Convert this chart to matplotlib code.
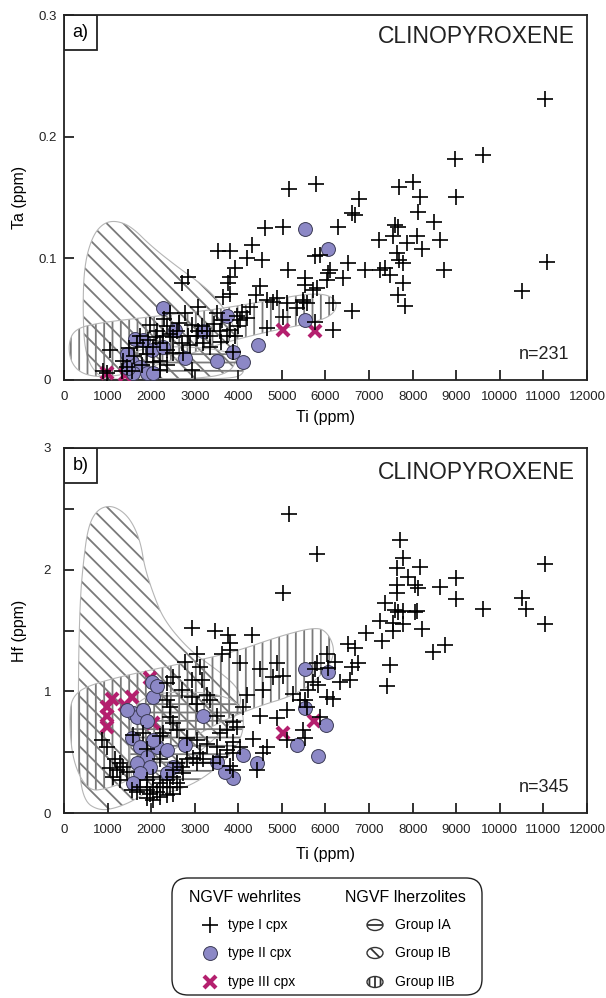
import numpy as np
import matplotlib
matplotlib.use('Agg')
import matplotlib.pyplot as plt
from matplotlib.patches import Polygon, Rectangle, FancyBboxPatch, Ellipse

plt.rcParams['font.family'] = ['Liberation Sans', 'DejaVu Sans']
plt.rcParams['hatch.linewidth'] = 1.3

# ---------------- panel a: Ta vs Ti ----------------
a_t1 = [(11040, .231), (8970, .182), (9615, .185), (5780, .161), (5160, .157), (7690, .159),
        (8010, .163), (6770, .149), (8170, .150), (8990, .150), (6610, .137), (6680, .136),
        (8120, .138), (8490, .130), (6290, .126), (7600, .127), (7665, .126), (7230, .115),
        (7550, .118), (7870, .113), (8100, .118), (8215, .108), (8630, .115), (7640, .104),
        (7690, .099), (7780, .096), (5760, .102), (5870, .103), (6520, .096), (6060, .088),
        (6100, .090), (6400, .084), (6910, .090), (7250, .090), (7370, .092), (7480, .086),
        (7780, .080), (7665, .070), (7825, .061), (8720, .090), (11080, .097), (10510, .073),
        (5530, .084), (5530, .078), (5484, .064), (5576, .063), (5800, .076), (6035, .082),
        (6170, .063), (6610, .057), (6170, .041), (5760, .048),
        (4612, .125), (5025, .126), (3534, .106), (3810, .106), (4314, .111), (4200, .100),
        (4543, .099), (3924, .092), (5140, .090), (2708, .080), (2845, .085), (3763, .080),
        (3810, .085), (4497, .077), (3650, .068), (3810, .071), (4658, .066), (4795, .064),
        (4887, .067), (5117, .063), (5346, .059), (5484, .066), (5713, .074), (3075, .060),
        (2776, .055), (4268, .060), (4084, .056), (3970, .053), (4038, .049), (4200, .051),
        (3510, .055), (3625, .049), (4658, .043), (5025, .052), (2432, .055), (1973, .045),
        (2134, .040), (2363, .044), (2432, .038), (2272, .036), (2500, .035), (2937, .045),
        (3167, .044), (3075, .040), (3281, .040), (3052, .036), (3350, .036), (3580, .040),
        (3810, .041), (3740, .036), (3924, .036), (3993, .044), (2708, .030), (2891, .029),
        (3190, .030), (3350, .027), (2731, .022), (1744, .036), (1675, .030), (1813, .027),
        (1927, .033), (2042, .027), (2203, .030), (2363, .025), (2500, .022), (2203, .016),
        (2042, .015), (1904, .021), (1354, .016), (1446, .011), (1560, .007), (1331, .007),
        (1056, .025), (895, .007), (987, .006), (2937, .008), (3878, .023), (2203, .008),
        (2363, .012), (1600, .020), (1800, .012), (2600, .040), (2300, .050), (4400, .070),
        (2100, .035), (2650, .047), (3450, .046), (1500, .026), (2850, .036), (3600, .031)]
a_t2 = [(5530, .124), (6060, .108), (2272, .059), (3740, .053), (5530, .049), (2547, .041),
        (3190, .040), (1629, .034), (1813, .033), (4452, .029), (3878, .023), (3510, .016),
        (4107, .015), (2776, .018), (1560, .015), (1446, .021), (1744, .011), (1904, .006),
        (2042, .006), (1583, .006), (1469, .010), (2019, .025), (2272, .027)]
a_t3 = [(5025, .041), (5760, .040), (987, .006), (1400, .004)]

a_IB = [(800, .002), (480, .02), (430, .06), (470, .095), (650, .118), (900, .129), (1200, .131),
        (1550, .126), (2000, .110), (2600, .093), (3300, .075), (3700, .058), (3950, .040),
        (4000, .020), (3800, .005), (3000, .001), (2000, .0005), (1200, .0005)]
a_IIB = [(100, .030), (250, .042), (800, .047), (2000, .052), (3500, .058), (4800, .066),
         (5600, .071), (6100, .070), (6280, .062), (6150, .053), (5700, .047), (4700, .040),
         (3600, .030), (2600, .018), (1600, .006), (900, .002), (400, .005), (150, .015)]
a_IA = [(1300, .003), (1400, .022), (2200, .028), (3500, .026), (4100, .018), (4150, .005),
        (3800, .0008), (2000, .0008)]

# ---------------- panel b: Hf vs Ti ----------------
b_t1 = [(5165, 2.46), (5800, 2.13), (5025, 1.81), (7710, 2.24), (7780, 2.10), (7640, 2.01),
        (8170, 2.02), (7890, 1.94), (8055, 1.87), (8120, 1.85), (7640, 1.87), (7640, 1.81),
        (8630, 1.86), (8995, 1.93), (7370, 1.73), (7600, 1.67), (7780, 1.66), (8100, 1.66),
        (8995, 1.76), (9615, 1.68), (10510, 1.77), (10600, 1.68), (11040, 2.05), (11040, 1.55),
        (7250, 1.58), (7550, 1.56), (7780, 1.55), (8215, 1.51), (7550, 1.50), (7665, 1.65),
        (8055, 1.65), (6930, 1.48), (7300, 1.41), (6520, 1.39), (6680, 1.36), (8470, 1.32),
        (8740, 1.38), (7480, 1.22), (7410, 1.04), (6750, 1.23), (6610, 1.20), (6220, 1.24),
        (6035, 1.31), (6060, 1.19), (5800, 1.23), (5760, 1.18), (6330, 1.08), (6560, 1.09),
        (5713, 1.08), (5600, 1.01), (5830, 1.05), (6035, 0.95), (6170, 0.94), (5530, 0.93),
        (5576, 0.87), (5870, 0.79), (5484, 0.68), (5530, 0.62),
        (2937, 1.52), (3465, 1.50), (3763, 1.46), (3810, 1.40), (4314, 1.46), (3625, 1.31),
        (3810, 1.34), (3052, 1.31), (4038, 1.23), (2776, 1.24), (3121, 1.20), (2500, 1.12),
        (2363, 1.07), (2937, 1.09), (3167, 1.09), (2708, 1.01), (3281, 0.97), (3350, 0.93),
        (2937, 0.95), (3052, 0.90), (4497, 1.18), (4887, 1.23), (4795, 1.12), (5025, 1.13),
        (4566, 1.01), (4200, 0.97), (4107, 0.87), (4497, 0.80), (4887, 0.78), (5117, 0.85),
        (5255, 0.98), (5415, 0.93), (5117, 0.60), (4337, 0.61), (4658, 0.54), (4566, 0.49),
        (3970, 0.71), (3878, 0.75), (3740, 0.68), (3580, 0.66), (3510, 0.80), (3878, 0.58),
        (3740, 0.52), (3878, 0.49), (3580, 0.46), (3419, 0.41), (3810, 0.39), (3878, 0.35),
        (4038, 0.54), (4430, 0.35), (3121, 0.49), (2960, 0.45), (2822, 0.44), (3190, 0.44),
        (3052, 0.41), (2822, 0.62), (2593, 0.68), (2432, 0.79), (2500, 0.74), (2272, 0.66),
        (1583, 0.64), (872, 0.60), (987, 0.54), (1170, 0.44), (1285, 0.41), (1354, 0.38),
        (1216, 0.35), (1056, 0.37), (1446, 0.34), (1124, 0.30), (1285, 0.27),
        (1744, 0.21), (1904, 0.19), (1973, 0.16), (2042, 0.21), (2134, 0.17), (2203, 0.25),
        (2272, 0.21), (2363, 0.27), (2432, 0.21), (2500, 0.30), (2593, 0.25), (2662, 0.21),
        (2731, 0.33), (2042, 0.11), (2203, 0.13), (2363, 0.15), (2500, 0.16), (1904, 0.12),
        (1675, 0.17), (1560, 0.19), (1904, 0.27), (2042, 0.30), (2500, 0.35), (2708, 0.38),
        (2593, 0.41), (2203, 0.44), (1904, 0.53), (1813, 0.66), (2203, 0.63), (2363, 0.93),
        (2432, 0.87), (3052, 0.60), (3281, 0.57), (3510, 0.54)]
b_t2 = [(5530, 1.18), (6060, 1.16), (5530, 0.86), (6010, 0.72), (5830, 0.47), (5346, 0.56),
        (4430, 0.41), (4107, 0.48), (3878, 0.29), (3694, 0.34), (3510, 0.42), (2776, 0.56),
        (3190, 0.80), (1583, 0.82), (1675, 0.79), (1813, 0.85), (1904, 0.76), (2042, 0.95),
        (2019, 1.08), (2134, 1.04), (1560, 0.62), (1744, 0.54), (1904, 0.46), (1675, 0.41),
        (1973, 0.38), (2134, 0.54), (2363, 0.52), (2500, 0.38), (2363, 0.33), (1744, 0.33),
        (1583, 0.25), (2042, 0.60), (1446, 0.85)]
b_t3 = [(987, 0.87), (1102, 0.94), (987, 0.71), (987, 0.80), (1400, 0.89), (1560, 0.95),
        (1973, 1.11), (2042, 0.74), (5025, 0.66), (5740, 0.76)]

b_IB = [(800, .02), (450, .10), (330, .40), (330, 1.20), (370, 1.75), (440, 2.05), (550, 2.35),
        (750, 2.49), (1050, 2.53), (1350, 2.48), (1580, 2.38), (1760, 2.22), (1850, 2.02),
        (2050, 1.80), (2300, 1.58), (2900, 1.33), (3500, 1.18), (4000, 1.03), (4080, 0.90),
        (3800, 0.72), (3100, 0.50), (2400, 0.30), (1700, 0.12), (1200, 0.04)]
b_IIB = [(120, 0.78), (200, 0.98), (800, 1.08), (2300, 1.20), (3800, 1.31), (5000, 1.46),
         (5800, 1.53), (6050, 1.48), (6200, 1.36), (6150, 1.25), (5950, 1.15), (5400, 0.98),
         (4300, 0.86), (3300, 0.70), (2200, 0.45), (1500, 0.27), (1000, 0.20), (550, 0.18),
         (200, 0.42)]
b_IA = [(1500, 0.50), (1550, 0.85), (1900, 0.97), (2700, 1.00), (3500, 0.98), (4050, 0.90),
        (4150, 0.70), (3900, 0.50), (3200, 0.28), (2500, 0.17), (1900, 0.15), (1550, 0.25)]

xticks = list(range(0, 12001, 1000))

PURPLE = '#8c88c6'
MAGENTA = '#b41f6e'
HATCH = '#7a7a7a'


def smooth(pts, ymax, n=3):
    # corner cutting in normalised units so both axes are treated alike
    p = np.array(pts, dtype=float) / [12000.0, ymax]
    for _ in range(n):
        q = np.roll(p, -1, axis=0)
        p = np.column_stack([0.75 * p + 0.25 * q, 0.25 * p + 0.75 * q]).reshape(-1, 2)
    return p * [12000.0, ymax]


def region(ax, pts, ymax, hatch):
    xy = smooth(pts, ymax)
    ax.add_patch(Polygon(xy, closed=True, fill=False, hatch=hatch, edgecolor=HATCH,
                         lw=0, zorder=1))
    ax.add_patch(Polygon(xy, closed=True, fill=False, edgecolor='#b5b5b5', lw=0.8, zorder=1))


def panel(ax, t1, t2, t3, IB, IIB, IA, ymax, yt, ylabs, yminor, ylabel, letter, n, ylet):
    region(ax, IB, ymax, '\\\\')
    region(ax, IIB, ymax, '||')
    region(ax, IA, ymax, '--')

    x3, y3 = zip(*t3)
    ax.plot(x3, y3, 'x', color=MAGENTA, ms=9, mew=3, zorder=3)
    x2, y2 = zip(*t2)
    ax.plot(x2, y2, 'o', mfc=PURPLE, mec='#3b3b55', mew=0.7, ms=10, zorder=4)
    x1, y1 = zip(*t1)
    ax.plot(x1, y1, '+', color='black', ms=11, mew=1.2, zorder=5)

    ax.set_xlim(0, 12000)
    ax.set_ylim(0, ymax)
    ax.set_xticks(xticks)
    ax.set_xticklabels([str(v) for v in xticks])
    ax.set_yticks(yt)
    ax.set_yticklabels(ylabs)
    if yminor:
        ax.set_yticks(yminor, minor=True)
    ax.tick_params(which='both', direction='in', length=7, width=1.3, labelsize=9.5,
                   colors='#222222')
    ax.tick_params(axis='x', pad=8)
    ax.tick_params(axis='y', pad=12)
    for lb in ax.get_yticklabels():
        lb.set_horizontalalignment('center')
    for s in ax.spines.values():
        s.set_linewidth(1.3)
        s.set_color('#222222')

    ax.set_ylabel(ylabel, fontsize=11.5)
    ax.yaxis.set_label_coords(-0.071, 0.5)
    ax.set_xlabel('Ti (ppm)', fontsize=11.5)

    ax.add_patch(Rectangle((0, 0.904), 0.063, 0.096, transform=ax.transAxes, fill=False,
                           lw=1.3, edgecolor='#222222', zorder=6))
    ax.text(0.0315, 0.952, letter, transform=ax.transAxes, ha='center', va='center',
            fontsize=13)
    ax.text(0.977, ylet, 'CLINOPYROXENE', transform=ax.transAxes, ha='right', va='center',
            fontsize=16.5, color='#222222')
    ax.text(0.967, 0.07, n, transform=ax.transAxes, ha='right', va='center', fontsize=13,
            color='#222222')


fig = plt.figure(figsize=(6.06, 9.98), dpi=100)

ax1 = fig.add_axes([64 / 606, 1 - 380 / 998, 523 / 606, 365 / 998])
panel(ax1, a_t1, a_t2, a_t3, a_IB, a_IIB, a_IA, 0.3, [0, 0.1, 0.2, 0.3],
      ['0', '0.1', '0.2', '0.3'], None, 'Ta (ppm)', 'a)', 'n=231', 0.94)
ax1.xaxis.set_label_coords(0.5, -0.082)

ax2 = fig.add_axes([64 / 606, 1 - 813 / 998, 523 / 606, 365 / 998])
panel(ax2, b_t1, b_t2, b_t3, b_IB, b_IIB, b_IA, 3, [0, 1, 2, 3], ['0', '1', '2', '3'],
      [0.5, 1.5, 2.5], 'Hf (ppm)', 'b)', 'n=345', 0.934)
ax2.xaxis.set_label_coords(0.5, -0.093)

# ---------------- legend ----------------
lg = fig.add_axes([170 / 606, 0, 315 / 606, 125 / 998])
lg.set_xlim(0, 315)
lg.set_ylim(0, 125)
lg.axis('off')
lg.add_patch(FancyBboxPatch((2, 3), 310, 117, boxstyle='round,pad=0,rounding_size=16',
                            fill=False, lw=1.0, edgecolor='#222222'))
lg.text(75, 100, 'NGVF wehrlites', ha='center', va='center', fontsize=11.5)
lg.text(235, 100, 'NGVF lherzolites', ha='center', va='center', fontsize=11.5)

rows = [73, 45, 16]
left_labels = ['type I cpx', 'type II cpx', 'type III cpx']
lg.plot([40], [rows[0]], '+', color='black', ms=11, mew=1.2)
lg.plot([40], [rows[1]], 'o', mfc=PURPLE, mec='#3b3b55', mew=0.7, ms=10)
lg.plot([40], [rows[2]], 'x', color=MAGENTA, ms=9, mew=3)
for y, t in zip(rows, left_labels):
    lg.text(58, y, t, ha='left', va='center', fontsize=10)

right_labels = ['Group IA', 'Group IB', 'Group IIB']
for y, t, h in zip(rows, right_labels, ['-', '\\\\\\', '|||']):
    lg.add_patch(Ellipse((205, y), 16, 11, fill=False, hatch=h, edgecolor='#333333', lw=1.0))
    lg.text(225, y, t, ha='left', va='center', fontsize=10)

fig.savefig('out.png', dpi=100)
